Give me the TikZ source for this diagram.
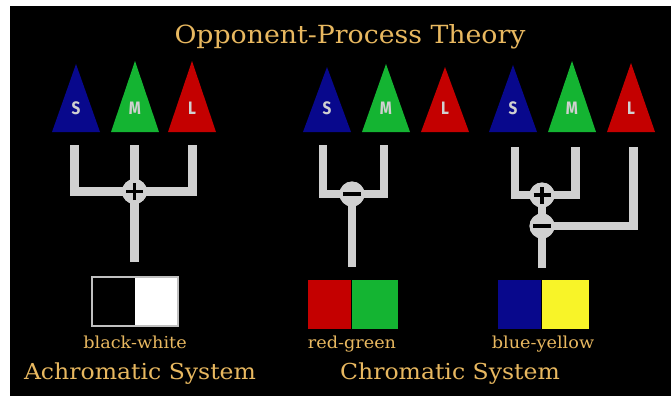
\documentclass[tikz,border=0pt]{standalone}
\usepackage{fontspec}
\setmainfont[FakeStretch=1.07]{DejaVu Serif}
\newfontfamily\conefont[FakeStretch=0.85]{Fira Sans}
\usetikzlibrary{calc}

\definecolor{sblue}{RGB}{8,8,140}
\definecolor{mgreen}{RGB}{20,180,50}
\definecolor{lred}{RGB}{196,0,0}
\definecolor{yyellow}{RGB}{248,244,40}
\definecolor{gold}{RGB}{232,184,96}
\definecolor{barcol}{RGB}{208,208,208}

\tikzset{
  conelabel/.style={text=barcol, font=\conefont\bfseries\fontsize{18}{18}\selectfont, inner sep=0pt},
  bar/.style={draw=barcol, line width=8.5pt, line cap=butt, line join=miter},
  joint/.style={circle, fill=barcol, minimum size=25pt, inner sep=0pt},
  sign/.style={draw=black, line width=3.6pt, line cap=butt},
  swatch/.style={rectangle, minimum width=43pt, minimum height=49pt, inner sep=0pt, outer sep=0pt},
  goldtext/.style={text=gold, inner sep=0pt},
  smalllabel/.style={goldtext, font=\fontsize{16.5}{16.5}\selectfont},
  biglabel/.style={goldtext, font=\fontsize{22}{22}\selectfont},
}

\begin{document}
\begin{tikzpicture}[x=1pt,y=-1pt]
\useasboundingbox (0,0) rectangle (671,396);
\fill[white] (0,0) rectangle (671,396);
\fill[black] (10,6) rectangle (671,396);

% title
\node[goldtext, font=\fontsize{25}{25}\selectfont] (title) at (350,37) {Opponent-Process Theory};

% cones: S, M, L in three groups
\foreach \cx/\ay/\col/\txt/\nm in {
   76/64/sblue/S/s1, 135/61/mgreen/M/m1, 192/61/lred/L/l1,
  327/67/sblue/S/s2, 386/64/mgreen/M/m2, 445/67/lred/L/l2,
  513/65/sblue/S/s3, 572/61/mgreen/M/m3, 631/63/lred/L/l3}{
  \fill[\col] (\cx-24,132) -- (\cx,\ay) -- (\cx+24,132) -- cycle;
  \node[conelabel] (\nm) at (\cx,108) {\txt};
}

% ---- achromatic channel: S + M + L
\coordinate (a1) at (74.5,145);
\coordinate (a2) at (134.5,145);
\coordinate (a3) at (192.5,145);
\coordinate (aout) at (134.5,262);
\node[joint] (plusA) at (134.5,191.5) {};
\draw[bar] (a1) |- (plusA.center) -| (a3);
\draw[bar] (a2) -- (plusA.center) -- (aout);
\node[joint] at (plusA) {};
\draw[sign] ([xshift=-8.5pt]plusA.center) -- ([xshift=8.5pt]plusA.center);
\draw[sign] ([yshift=-8.5pt]plusA.center) -- ([yshift=8.5pt]plusA.center);

% ---- red-green channel: S - M
\coordinate (b1) at (323,145);
\coordinate (b3) at (384,145);
\coordinate (bout) at (352,267);
\node[joint] (minusB) at (352,194) {};
\draw[bar] (b1) |- (minusB.center) -| (b3);
\draw[bar] (minusB.center) -- (bout);
\node[joint] at (minusB) {};
\draw[sign] ([xshift=-9pt]minusB.center) -- ([xshift=9pt]minusB.center);

% ---- blue-yellow channel: (S + M) - L
\coordinate (c1) at (515,147);
\coordinate (c2) at (575.5,147);
\coordinate (c3) at (633.5,147);
\coordinate (cout) at (542,268);
\node[joint] (plusC) at (542,195) {};
\node[joint] (minusC) at (542,226) {};
\draw[bar] (c1) |- (plusC.center) -| (c2);
\draw[bar] (plusC.center) -- (minusC.center) -- (cout);
\draw[bar] (minusC.center) -| (c3);
\node[joint] at (plusC) {};
\node[joint] at (minusC) {};
\draw[sign] ([xshift=-8.5pt]plusC.center) -- ([xshift=8.5pt]plusC.center);
\draw[sign] ([yshift=-8.5pt]plusC.center) -- ([yshift=8.5pt]plusC.center);
\draw[sign] ([xshift=-9pt]minusC.center) -- ([xshift=9pt]minusC.center);

% ---- colour swatches
\node[swatch, fill=black] (bk) at (113.5,301.5) {};
\node[swatch, fill=white] (wh) at (156.5,301.5) {};
\draw[barcol!80!gray, line width=1.5pt] (bk.north west) rectangle (wh.south east);
\node[swatch, fill=lred] (rd) at (329.5,304) {};
\node[swatch, fill=mgreen, minimum width=46pt] (gn) at (375,304) {};
\node[swatch, fill=sblue] (bl) at (519.5,304) {};
\node[swatch, fill=yyellow, minimum width=47pt] (ye) at (565,304) {};

% ---- labels
\node[smalllabel] (lbw) at (135,342) {black-white};
\node[smalllabel] (lrg) at (352,344) {red-green};
\node[smalllabel] (lby) at (543,344) {blue-yellow};
\node[biglabel] (ach) at (140,374) {Achromatic System};
\node[biglabel] (chr) at (450,374) {Chromatic System};
\end{tikzpicture}
\end{document}
